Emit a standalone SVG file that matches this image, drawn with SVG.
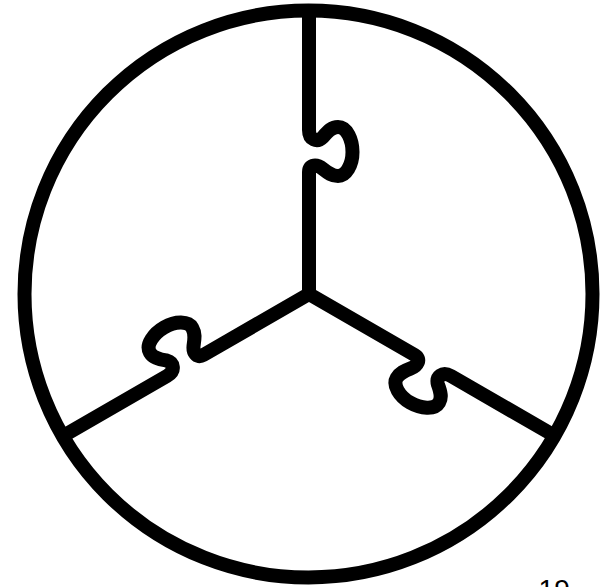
<svg xmlns="http://www.w3.org/2000/svg" xmlns:xlink="http://www.w3.org/1999/xlink" width="606" height="587" viewBox="0 0 606 587">
  <style>
    .ink { fill: none; stroke: #000; stroke-width: 14; stroke-linejoin: round; stroke-linecap: butt; }
    .num { font-family: "Liberation Sans", Arial, sans-serif; font-size: 28px; fill: #000; }
  </style>
  <defs>
    <path id="arm" class="ink" d="M 309 8 V 130 C 309 140, 317 143, 323 137 C 328 131, 332 127, 338 127 C 347 127, 352.5 140, 352.5 152 C 352.5 165, 346 176, 338 176 C 332 176, 328 173, 323 169 C 317 164, 309 164, 309 172 V 294"/>
  </defs>
  <rect width="606" height="587" fill="#fff"/>
  <g id="circle">
    <ellipse class="ink" cx="308.5" cy="294" rx="284" ry="283.5"/>
  </g>
  <g id="arms">
    <use id="arm-top" xlink:href="#arm"/>
    <use id="arm-right" xlink:href="#arm" transform="rotate(120 309 294)"/>
    <use id="arm-left" xlink:href="#arm" transform="rotate(240 309 294)"/>
  </g>
  <g id="page-number">
    <text class="num" x="538.6" y="599">19</text>
  </g>
</svg>
